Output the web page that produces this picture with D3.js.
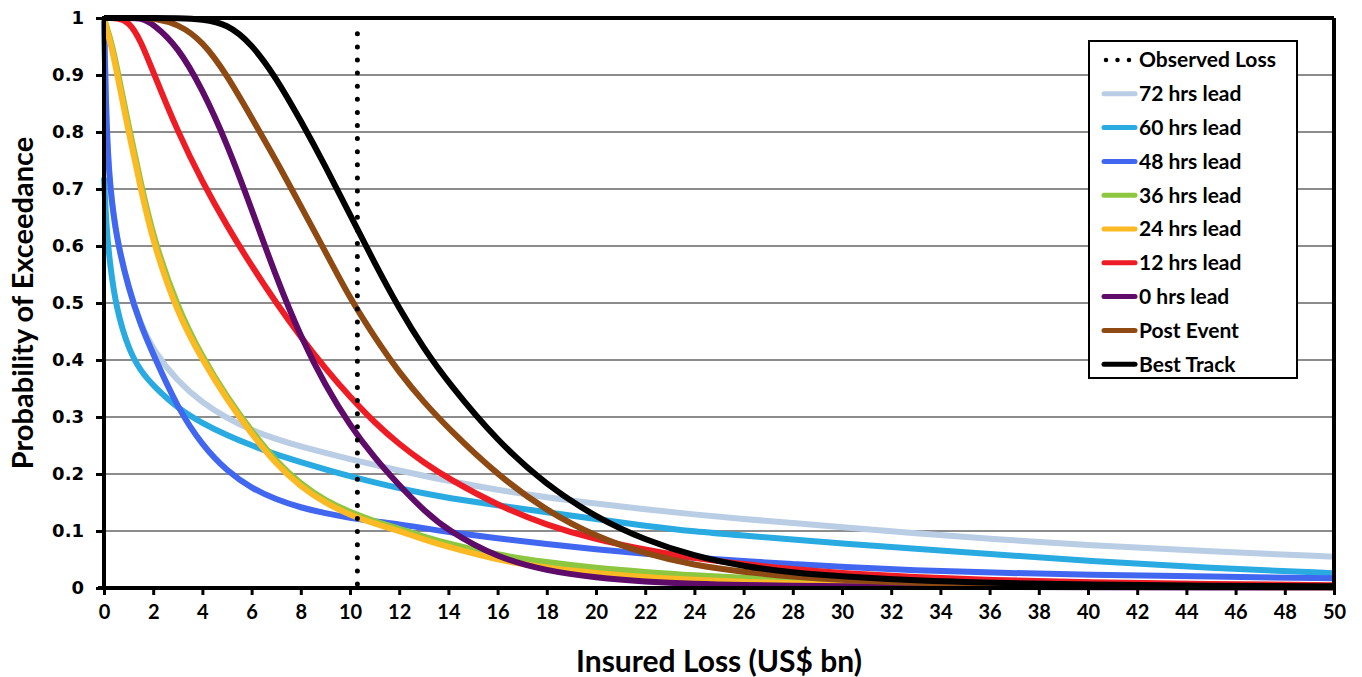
<!DOCTYPE html>
<html>
<head>
<meta charset="utf-8">
<script src="https://cdn.jsdelivr.net/npm/d3@7"></script>
<style>
  body { margin: 0; background: #fff; }
  text { font-family: Lato, "Open Sans", sans-serif; font-weight: bold; }
</style>
</head>
<body>
<div id="chart"></div>
<script>
// DATA
const lossX = [0, 0.1, 0.25, 0.5, 1, 1.5, 2, 3, 4, 5, 6, 7, 8, 9, 10, 11, 12, 13, 14, 16, 18, 20, 22, 24, 26, 28, 30, 33, 36, 40, 45, 50];

const hrs72 = [1, 0.8, 0.7, 0.615, 0.525, 0.462, 0.417, 0.362, 0.325, 0.298, 0.277, 0.261, 0.248, 0.237, 0.226, 0.216, 0.206, 0.197, 0.188, 0.172, 0.159, 0.148, 0.138, 0.129, 0.121, 0.114, 0.107, 0.096, 0.086, 0.075, 0.064, 0.055];
const hrs60 = [0.72, 0.63, 0.565, 0.49, 0.418, 0.38, 0.355, 0.315, 0.289, 0.268, 0.25, 0.234, 0.221, 0.208, 0.196, 0.185, 0.175, 0.166, 0.158, 0.145, 0.133, 0.121, 0.109, 0.099, 0.092, 0.085, 0.078, 0.069, 0.06, 0.047, 0.035, 0.026];
const hrs48 = [1, 0.8, 0.7, 0.615, 0.525, 0.46, 0.41, 0.315, 0.25, 0.205, 0.175, 0.155, 0.141, 0.131, 0.123, 0.117, 0.112, 0.105, 0.098, 0.087, 0.077, 0.068, 0.06, 0.053, 0.047, 0.042, 0.037, 0.031, 0.027, 0.023, 0.02, 0.017];
const hrs36 = [1, 0.985, 0.965, 0.92, 0.81, 0.71, 0.615, 0.49, 0.405, 0.335, 0.275, 0.222, 0.182, 0.153, 0.133, 0.117, 0.104, 0.09, 0.078, 0.058, 0.045, 0.035, 0.028, 0.022, 0.018, 0.014, 0.011, 0.008, 0.006, 0.004, 0.003, 0.002];
const hrs24 = [1, 0.98, 0.96, 0.91, 0.8, 0.7, 0.605, 0.48, 0.4, 0.33, 0.27, 0.217, 0.177, 0.149, 0.128, 0.113, 0.1, 0.085, 0.072, 0.049, 0.035, 0.026, 0.019, 0.014, 0.011, 0.008, 0.006, 0.005, 0.004, 0.003, 0.002, 0.001];
const hrs12 = [1, 1, 1, 1, 0.995, 0.96, 0.905, 0.8, 0.712, 0.635, 0.565, 0.5, 0.44, 0.385, 0.335, 0.29, 0.252, 0.22, 0.192, 0.145, 0.11, 0.085, 0.067, 0.052, 0.042, 0.033, 0.026, 0.019, 0.014, 0.01, 0.007, 0.005];
const hrs0 = [1, 1, 1, 1, 1, 1, 0.99, 0.95, 0.875, 0.78, 0.665, 0.545, 0.44, 0.355, 0.285, 0.228, 0.18, 0.136, 0.1, 0.053, 0.03, 0.018, 0.011, 0.007, 0.005, 0.004, 0.003, 0.002, 0.002, 0.001, 0.001, 0.001];
const postEvent = [1, 1, 1, 1, 1, 1, 1, 0.99, 0.96, 0.9, 0.825, 0.75, 0.67, 0.59, 0.508, 0.44, 0.378, 0.326, 0.28, 0.198, 0.135, 0.09, 0.06, 0.04, 0.028, 0.02, 0.014, 0.009, 0.006, 0.004, 0.003, 0.002];
const bestTrack = [1, 1, 1, 1, 1, 1, 1, 1, 0.998, 0.99, 0.955, 0.895, 0.82, 0.74, 0.655, 0.57, 0.49, 0.42, 0.36, 0.257, 0.18, 0.124, 0.084, 0.056, 0.038, 0.027, 0.02, 0.013, 0.009, 0.006, 0.004, 0.003];

const observedLoss = 10.3;

const seriesNames = ["72 hrs lead", "60 hrs lead", "48 hrs lead", "36 hrs lead", "24 hrs lead", "12 hrs lead", "0 hrs lead", "Post Event", "Best Track"];
const seriesValues = [hrs72, hrs60, hrs48, hrs36, hrs24, hrs12, hrs0, postEvent, bestTrack];
const seriesColors = ["#b9cde5", "#29abe2", "#4166f0", "#8dc63f", "#fbb923", "#ee1c24", "#5e0b6a", "#8e4a12", "#000000"];

const xTicks = d3.range(0, 51, 2);
const yTicks = [0, 0.1, 0.2, 0.3, 0.4, 0.5, 0.6, 0.7, 0.8, 0.9, 1];

// SIZES
const W = 1362, H = 677;
const MARGIN = { top: 18, right: 28, bottom: 89, left: 104 };
const WIDTH = W - MARGIN.left - MARGIN.right;
const HEIGHT = H - MARGIN.top - MARGIN.bottom;

let svg = d3.select("#chart")
  .append("svg")
  .attr("width", W)
  .attr("height", H);

let g = svg.append("g")
  .attr("transform", `translate(${MARGIN.left}, ${MARGIN.top})`);

let xScale = d3.scaleLinear().domain([0, 50]).range([0, WIDTH]);
let yScale = d3.scaleLinear().domain([0, 1]).range([HEIGHT, 0]);

// GRID
g.append("g")
  .selectAll("line")
  .data(yTicks.filter(d => d > 0 && d < 1))
  .enter()
  .append("line")
  .attr("x1", 0)
  .attr("x2", WIDTH)
  .attr("y1", d => yScale(d))
  .attr("y2", d => yScale(d))
  .attr("stroke", "#8c8c8c")
  .attr("stroke-width", 2);

// LINES
const line = d3.line()
  .x(d => xScale(d[0]))
  .y(d => yScale(d[1]))
  .curve(d3.curveBasis);

seriesValues.forEach((vals, i) => {
  g.append("path")
    .datum(lossX.map((x, j) => [x, vals[j]]))
    .attr("fill", "none")
    .attr("stroke", seriesColors[i])
    .attr("stroke-width", 6)
    .attr("stroke-linejoin", "round")
    .attr("d", line);
});

// OBSERVED LOSS
g.append("line")
  .attr("x1", xScale(observedLoss))
  .attr("x2", xScale(observedLoss))
  .attr("y1", yScale(0) - 4)
  .attr("y2", yScale(1) + 6)
  .attr("stroke", "#000")
  .attr("stroke-width", 5)
  .attr("stroke-linecap", "round")
  .attr("stroke-dasharray", "0 13.1");

// FRAME
g.append("line").attr("x1", 0).attr("x2", WIDTH).attr("y1", 0).attr("y2", 0)
  .attr("stroke", "#000").attr("stroke-width", 4);
g.append("line").attr("x1", WIDTH).attr("x2", WIDTH).attr("y1", 0).attr("y2", HEIGHT)
  .attr("stroke", "#000").attr("stroke-width", 4);

// AXES
let xAxis = g.append("g")
  .attr("transform", `translate(0, ${HEIGHT})`)
  .call(d3.axisBottom(xScale).tickValues(xTicks).tickSize(7).tickSizeOuter(0).tickPadding(10));
xAxis.select(".domain").attr("stroke-width", 4).attr("d", `M-6,0H${WIDTH + 2}`);
xAxis.selectAll(".tick line").attr("stroke-width", 3);
xAxis.selectAll("text")
  .attr("font-size", 20)
  .attr("fill", "#000")
  .style("font-family", "Lato, sans-serif")
  .style("font-weight", "bold");

let yAxis = g.append("g")
  .call(d3.axisLeft(yScale).tickValues(yTicks).tickSize(8).tickSizeOuter(0).tickPadding(12)
    .tickFormat(d => (d === 0 || d === 1) ? d3.format("d")(d) : d3.format(".1f")(d)));
yAxis.select(".domain").attr("stroke-width", 4).attr("d", `M0,${HEIGHT + 2}V-2`);
yAxis.selectAll(".tick line").attr("stroke-width", 3);
yAxis.selectAll("text")
  .attr("font-size", 18)
  .attr("fill", "#000")
  .style("font-family", "'DejaVu Sans', sans-serif")
  .style("font-weight", "bold");

// AXIS TITLES
svg.append("text")
  .attr("x", MARGIN.left + WIDTH / 2)
  .attr("y", 672)
  .attr("text-anchor", "middle")
  .attr("font-size", 30)
  .text("Insured Loss (US$ bn)");

svg.append("text")
  .attr("transform", `translate(33, ${MARGIN.top + HEIGHT / 2}) rotate(-90)`)
  .attr("text-anchor", "middle")
  .attr("font-size", 29)
  .text("Probability of Exceedance");

// LEGEND
const legendX = 1089, legendY = 41, legendW = 208, legendH = 337, rowH = 33.8;
let legend = svg.append("g");
legend.append("rect")
  .attr("x", legendX)
  .attr("y", legendY)
  .attr("width", legendW)
  .attr("height", legendH)
  .attr("fill", "#fff")
  .attr("stroke", "#000")
  .attr("stroke-width", 2);

const legendItems = ["Observed Loss"].concat(seriesNames);
legendItems.forEach((name, i) => {
  const cy = legendY + 19 + i * rowH;
  let l = legend.append("line")
    .attr("x1", 1104).attr("x2", 1135)
    .attr("y1", cy).attr("y2", cy)
    .attr("stroke-linecap", "round");
  if (i === 0) {
    l.attr("stroke", "#000").attr("stroke-width", 4.5).attr("stroke-dasharray", "0 11.5")
      .attr("x1", 1106).attr("x2", 1130);
  } else {
    l.attr("stroke", seriesColors[i - 1]).attr("stroke-width", 5);
  }
  legend.append("text")
    .attr("x", 1139)
    .attr("y", cy)
    .attr("dy", "0.35em")
    .attr("font-size", 21)
    .text(name);
});
</script>
</body>
</html>
